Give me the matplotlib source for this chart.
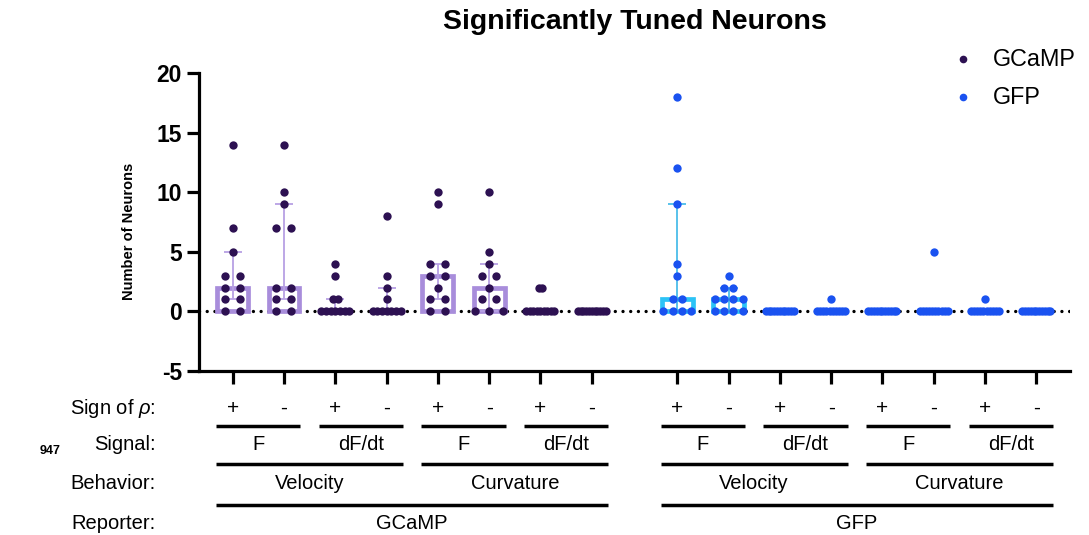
import numpy as np
import matplotlib
matplotlib.use("Agg")
import matplotlib.pyplot as plt
from matplotlib import transforms
from matplotlib.lines import Line2D

plt.rcParams["font.family"] = ["Liberation Sans", "DejaVu Sans"]
plt.rcParams["axes.unicode_minus"] = False
plt.rcParams["mathtext.fontset"] = "custom"
plt.rcParams["mathtext.it"] = "Liberation Sans:italic"
plt.rcParams["mathtext.rm"] = "Liberation Sans"

# ---- data: significantly tuned neuron counts per animal ----
reporters = ["GCaMP", "GFP"]
behaviors = ["Velocity", "Curvature"]
signals = ["F", "dF/dt"]
signs = ["+", "-"]

gcamp_counts = [
    [14, 7, 5, 3, 3, 2, 2, 1, 1, 0, 0],
    [14, 10, 9, 7, 7, 2, 2, 1, 1, 0, 0],
    [4, 3, 1, 1, 0, 0, 0, 0, 0, 0, 0],
    [8, 3, 2, 1, 0, 0, 0, 0, 0, 0, 0],
    [10, 9, 4, 4, 3, 3, 2, 1, 1, 0, 0],
    [10, 5, 4, 3, 3, 2, 1, 1, 0, 0, 0],
    [2, 2, 0, 0, 0, 0, 0, 0, 0, 0, 0],
    [0, 0, 0, 0, 0, 0, 0, 0, 0, 0, 0],
]
gfp_counts = [
    [18, 12, 9, 4, 3, 1, 1, 0, 0, 0, 0],
    [3, 2, 2, 1, 1, 1, 1, 0, 0, 0, 0],
    [0, 0, 0, 0, 0, 0, 0, 0, 0, 0, 0],
    [1, 0, 0, 0, 0, 0, 0, 0, 0, 0, 0],
    [0, 0, 0, 0, 0, 0, 0, 0, 0, 0, 0],
    [5, 0, 0, 0, 0, 0, 0, 0, 0, 0, 0],
    [1, 0, 0, 0, 0, 0, 0, 0, 0, 0, 0],
    [0, 0, 0, 0, 0, 0, 0, 0, 0, 0, 0],
]
y_ticks = [-5, 0, 5, 10, 15, 20]

# ---- styling ----
dot_colors = {"GCaMP": "#2d1152", "GFP": "#1a52f0"}
bar_colors = {"GCaMP": "#a88ddb", "GFP": "#2cc3f6"}
err_colors = {"GCaMP": "#b7a0e4", "GFP": "#4bbde9"}

W, H = 1089, 535
fig = plt.figure(figsize=(W / 100, H / 100), dpi=100)
ax = fig.add_axes([198.5 / W, 1 - 371 / H, (1070 - 198.5) / W, (371 - 73) / H])

px_per_unit = 51.29
gfp_offset = 8.668
positions = {"GCaMP": np.arange(8.0), "GFP": np.arange(8.0) + gfp_offset}
counts = {"GCaMP": gcamp_counts, "GFP": gfp_counts}

ax.set_xlim(-0.667, 16.325)
ax.set_ylim(-5, 20)

ax.axhline(0, color="black", linewidth=2.4, linestyle=(0, (0.01, 2.3)),
           dash_capstyle="round", zorder=1)

bar_w = 0.6
for rep in reporters:
    for x, vals in zip(positions[rep], counts[rep]):
        vals = np.asarray(vals, dtype=float)
        med = np.median(vals)
        q1, q3 = np.percentile(vals, [25, 75], method="weibull")
        ax.bar(x, med, width=bar_w, bottom=0, facecolor="none",
               edgecolor=bar_colors[rep], linewidth=3.4, zorder=2)
        if q3 > q1:
            ax.errorbar(x, med, yerr=[[med - q1], [q3 - med]], fmt="none",
                        ecolor=err_colors[rep], elinewidth=1.3, capsize=6.5,
                        capthick=1.3, zorder=3)
        # spread repeated values sideways, centred on the column
        levels, n_at = np.unique(vals, return_counts=True)
        kmax = n_at.max()
        step_px = 15.0 if kmax < 2 else min(15.0, 28.0 / (kmax - 1))
        step = step_px / px_per_unit
        xs, ys = [], []
        for lv, k in zip(levels, n_at):
            offs = (np.arange(k) - (k - 1) / 2) * step
            xs.extend(x + offs)
            ys.extend([lv] * k)
        ax.plot(xs, ys, "o", color=dot_colors[rep], markersize=6.0,
                markeredgewidth=0, zorder=4, clip_on=False)

# axes styling
for s in ["top", "right"]:
    ax.spines[s].set_visible(False)
for s in ["left", "bottom"]:
    ax.spines[s].set_linewidth(2.3)
ax.set_yticks(y_ticks)
ax.set_yticklabels([str(t) for t in y_ticks], fontsize=16.5, fontweight="bold")
ax.tick_params(axis="y", length=8.5, width=2.3, pad=3.5)
ax.set_xticks(np.concatenate([positions["GCaMP"], positions["GFP"]]))
ax.tick_params(axis="x", length=9.4, width=2.3, labelbottom=False)

fig.text(129 / W, 1 - 231 / H, "Number of Neurons", rotation=90,
         ha="center", va="center", fontsize=10.5, fontweight="bold")
fig.text(635 / W, 1 - 22 / H, "Significantly Tuned Neurons", ha="center",
         va="center", fontsize=20.5, fontweight="bold")

# legend
for i, rep in enumerate(reporters):
    yl = 1 - (59.3 + 38 * i) / H
    fig.add_artist(Line2D([963 / W], [yl], marker="o", color=dot_colors[rep],
                          markersize=5.5, markeredgewidth=0, linestyle="none",
                          transform=fig.transFigure))
    fig.text(992.7 / W, yl, rep, ha="left", va="center", fontsize=16.8)

# grouping table under the x axis
tr = transforms.blended_transform_factory(ax.transData, fig.transFigure)
def fy(ypx):
    return 1 - ypx / H

base = {"sign": 414, "signal": 449.5, "behavior": 489, "reporter": 529.3}
line_y = {"signal": 425.5, "behavior": 464, "reporter": 505}
ext = 0.32
fs = 14.5
line_kw = dict(color="black", linewidth=2.5, solid_capstyle="butt",
               transform=tr, clip_on=False)

for rep in reporters:
    pos = positions[rep]
    for i, x in enumerate(pos):
        ax.text(x, fy(base["sign"]), signs[i % 2], transform=tr, ha="center",
                va="baseline", fontsize=fs + 0.5)
    for j in range(4):
        a, b = pos[2 * j], pos[2 * j + 1]
        ax.add_line(Line2D([a - ext, b + ext], [fy(line_y["signal"])] * 2, **line_kw))
        ax.text((a + b) / 2, fy(base["signal"]), signals[j % 2], transform=tr,
                ha="center", va="baseline", fontsize=fs)
    for j in range(2):
        a, b = pos[4 * j], pos[4 * j + 3]
        ax.add_line(Line2D([a - ext, b + ext], [fy(line_y["behavior"])] * 2, **line_kw))
        ax.text((a + b) / 2, fy(base["behavior"]), behaviors[j], transform=tr,
                ha="center", va="baseline", fontsize=fs)
    a, b = pos[0], pos[-1]
    ax.add_line(Line2D([a - ext, b + ext], [fy(line_y["reporter"])] * 2, **line_kw))
    ax.text((a + b) / 2, fy(base["reporter"]), rep, transform=tr,
            ha="center", va="baseline", fontsize=fs)

row_labels = [("Sign of $\\rho$:", "sign"), ("Signal:", "signal"),
              ("Behavior:", "behavior"), ("Reporter:", "reporter")]
for label, key in row_labels:
    fig.text(156 / W, fy(base[key]), label, ha="right", va="baseline", fontsize=fs)

fig.text(50 / W, fy(451), "947", ha="center", va="center", fontsize=9,
         fontweight="bold")

fig.savefig("out.png", dpi=100, facecolor="white")
